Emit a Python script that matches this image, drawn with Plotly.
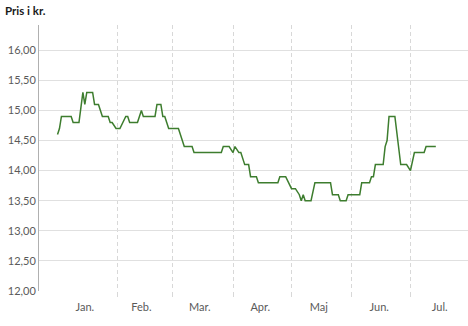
import plotly.graph_objects as go

# Daily price breakpoints (kr.)
dates = [
    "2023-01-01", "2023-01-02", "2023-01-03", "2023-01-08", "2023-01-09", "2023-01-12",
    "2023-01-14", "2023-01-15", "2023-01-16", "2023-01-19", "2023-01-20", "2023-01-22",
    "2023-01-23", "2023-01-24", "2023-01-27", "2023-01-28", "2023-01-29", "2023-01-31",
    "2023-02-02", "2023-02-05", "2023-02-06", "2023-02-07", "2023-02-11", "2023-02-13",
    "2023-02-14", "2023-02-20", "2023-02-21", "2023-02-23", "2023-02-24", "2023-02-25",
    "2023-02-26", "2023-02-27", "2023-03-04", "2023-03-07", "2023-03-11", "2023-03-12",
    "2023-03-26", "2023-03-27", "2023-03-30", "2023-04-01", "2023-04-02", "2023-04-04",
    "2023-04-05", "2023-04-07", "2023-04-09", "2023-04-10", "2023-04-13", "2023-04-14",
    "2023-04-24", "2023-04-25", "2023-04-28", "2023-05-01", "2023-05-03", "2023-05-05",
    "2023-05-06", "2023-05-07", "2023-05-08", "2023-05-11", "2023-05-13", "2023-05-21",
    "2023-05-22", "2023-05-25", "2023-05-26", "2023-05-29", "2023-05-30", "2023-06-05",
    "2023-06-06", "2023-06-10", "2023-06-11", "2023-06-12", "2023-06-13", "2023-06-17",
    "2023-06-18", "2023-06-19", "2023-06-20", "2023-06-23", "2023-06-26", "2023-06-29",
    "2023-07-01", "2023-07-03", "2023-07-08", "2023-07-09", "2023-07-14",
]
prices = [
    14.60, 14.70, 14.90, 14.90, 14.80, 14.80,
    15.30, 15.10, 15.30, 15.30, 15.10, 15.10,
    15.00, 14.90, 14.90, 14.80, 14.80, 14.70,
    14.70, 14.90, 14.90, 14.80, 14.80, 15.00,
    14.90, 14.90, 15.10, 15.10, 14.90, 14.90,
    14.80, 14.70, 14.70, 14.40, 14.40, 14.30,
    14.30, 14.40, 14.40, 14.30, 14.40, 14.30,
    14.30, 14.10, 14.10, 13.90, 13.90, 13.80,
    13.80, 13.90, 13.90, 13.70, 13.70, 13.60,
    13.50, 13.60, 13.50, 13.50, 13.80, 13.80,
    13.60, 13.60, 13.50, 13.50, 13.60, 13.60,
    13.80, 13.80, 13.90, 13.90, 14.10, 14.10,
    14.40, 14.50, 14.90, 14.90, 14.10, 14.10,
    14.00, 14.30, 14.30, 14.40, 14.40,
]

month_label_pos = ["2023-01-15", "2023-02-13", "2023-03-15", "2023-04-15",
                   "2023-05-15", "2023-06-15", "2023-07-16"]
month_labels = ["Jan.", "Feb.", "Mar.", "Apr.", "Maj", "Jun.", "Jul."]
month_starts = ["2023-02-01", "2023-03-01", "2023-04-01", "2023-05-01",
                "2023-06-01", "2023-07-01"]
y_ticks = [12, 12.5, 13, 13.5, 14, 14.5, 15, 15.5, 16]

font_family = "Lato, 'Open Sans', sans-serif"

fig = go.Figure()
fig.add_trace(go.Scatter(
    x=dates, y=prices, mode="lines",
    line=dict(color="#3d7d2e", width=1.5),
    hoverinfo="skip", showlegend=False,
))

fig.update_layout(
    width=468, height=326,
    margin=dict(l=39, r=0, t=25, b=35),
    paper_bgcolor="white", plot_bgcolor="white",
    separators=",.",
    font=dict(family=font_family, size=11, color="#5a5a5a"),
    title=dict(text="<b>Pris i kr.</b>", x=5 / 468, xanchor="left", xref="container",
               y=1 - 11 / 326, yanchor="middle", yref="container",
               font=dict(family=font_family, size=11.5, color="#1a1a1a")),
    xaxis=dict(
        type="date",
        range=["2022-12-22 12:00", "2023-07-30 12:00"],
        tickmode="array", tickvals=month_label_pos, ticktext=month_labels,
        showgrid=False, zeroline=False, showline=False,
        ticks="outside", ticklen=6, tickcolor="rgba(0,0,0,0)",
        tickfont=dict(size=11, color="#5a5a5a"),
        minor=dict(tickmode="array", tickvals=month_starts, showgrid=True,
                   gridcolor="#d8d8d8", griddash="4px,3px", gridwidth=1,
                   ticks="outside", ticklen=5, tickcolor="#d8d8d8"),
    ),
    yaxis=dict(
        range=[12, 16.42],
        tickmode="array", tickvals=y_ticks, tickformat=".2f",
        showgrid=True, gridcolor="#e0e0e0", gridwidth=1,
        zeroline=False, showline=True, linecolor="#b0b0b0", linewidth=1,
        ticks="", tickfont=dict(size=11, color="#5a5a5a"),
    ),
)

fig.write_html("out.html")
